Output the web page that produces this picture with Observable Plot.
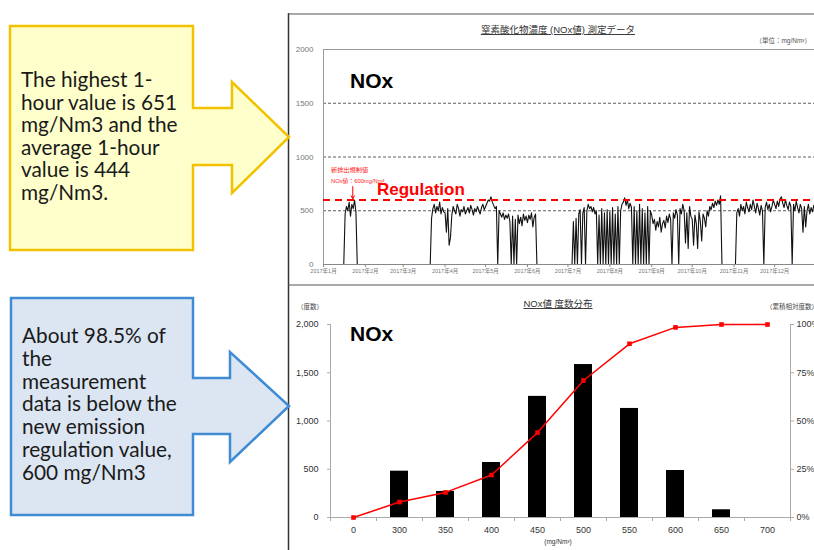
<!DOCTYPE html>
<html><head><meta charset="utf-8">
<script src="https://cdn.jsdelivr.net/npm/d3@7"></script>
<script src="https://cdn.jsdelivr.net/npm/@observablehq/plot@0.6"></script>
<style>
html,body{margin:0;padding:0;background:#fff;}
body{width:814px;height:550px;overflow:hidden;position:relative;font-family:"Liberation Sans",Arial,"Noto Sans CJK JP",sans-serif;}
#top,#bottom,#overlay{position:absolute;}
#top{left:288px;top:13px;width:540px;}
#bottom{left:288px;top:288px;width:526px;}
#overlay{left:0;top:0;pointer-events:none;}
#top svg,#bottom svg{max-width:none !important;}
</style></head><body>
<div id="top"></div><div id="bottom"></div>
<svg id="overlay" width="814" height="550" xmlns="http://www.w3.org/2000/svg">
  <!-- panel borders -->
  <line x1="288.5" y1="13" x2="288.5" y2="550" stroke="#333" stroke-width="1.5"/>
  <line x1="288" y1="14" x2="814" y2="14" stroke="#555" stroke-width="1.2"/>
  <line x1="288" y1="285" x2="814" y2="285" stroke="#555" stroke-width="1.2"/>
  <!-- callouts -->
  <polygon points="10,26 193,26 193,108 232,108 232,82 289,137 232,193 232,165 193,165 193,250 10,250" fill="#ffffcc" stroke="#f2c200" stroke-width="2.5" stroke-linejoin="miter"/>
  <polygon points="11,298 193,298 193,378 230,378 230,352 289,406 230,462 230,434 193,434 193,515 11,515" fill="#dce6f2" stroke="#3f8bd4" stroke-width="2.5" stroke-linejoin="miter"/>
  <g font-family="Lato, 'Open Sans', sans-serif" font-size="20.8" fill="#1a1a1a">
    <text x="21" y="87">The highest 1-</text>
    <text x="21" y="109.6">hour value is 651</text>
    <text x="21" y="132.2">mg/Nm3 and the</text>
    <text x="21" y="154.8">average 1-hour</text>
    <text x="21" y="177.4">value is 444</text>
    <text x="21" y="200">mg/Nm3.</text>
    <text x="22" y="343">About 98.5% of</text>
    <text x="22" y="365.8">the</text>
    <text x="22" y="388.6">measurement</text>
    <text x="22" y="411.4">data is below the</text>
    <text x="22" y="434.2">new emission</text>
    <text x="22" y="457">regulation value,</text>
    <text x="22" y="479.8">600 mg/Nm3</text>
  </g>
  <!-- chart titles and notes -->
  <g font-family="'Liberation Sans', Arial, 'Noto Sans CJK JP', sans-serif">
    <text x="558" y="33" text-anchor="middle" font-size="9.5" fill="#333" text-decoration="underline">窒素酸化物濃度 (NOx値) 測定データ</text>
    <text x="811" y="43" text-anchor="end" font-size="6.5" fill="#555">（単位：mg/Nm³）</text>
    <text x="350" y="88" font-size="21" font-weight="bold" fill="#000">NOx</text>
    <text x="331" y="171.5" font-size="6.2" fill="#ff2020">新排出規制値</text>
    <text x="331" y="182.5" font-size="5.8" fill="#ff2020">NOx値：600mg/Nm³</text>
    <text x="377" y="194.5" font-size="17" font-weight="bold" fill="#ff0000">Regulation</text>
    <text x="558" y="307" text-anchor="middle" font-size="9.5" fill="#333" text-decoration="underline">NOx値 度数分布</text>
    <text x="297" y="309" font-size="6.5" fill="#444">（度数）</text>
    <text x="766" y="309" font-size="6.5" fill="#444">（累積相対度数）</text>
    <text x="350" y="341" font-size="21" font-weight="bold" fill="#000">NOx</text>
    <text x="558" y="544" text-anchor="middle" font-size="6.5" fill="#333">(mg/Nm³)</text>
  </g>
</svg>
<script>
// Daily NOx readings 2017 (mg/Nm3); 0 = plant stopped
const jan=[0,0,0,0,0,0,0,0,0,0,0,0,0,0,0,0,470,540,500,580,450,560,520,600,490,0,0,0,0,0,0];
const feb=[0,0,0,0,0,0,0,0,0,0,0,0,0,0,0,0,0,0,0,0,0,0,0,0,0,0,0,0];
const mar=[0,0,0,0,0,0,0,0,0,0,0,0,0,0,0,0,0,0,0,0,0,430,520,560,480,540,500,580,470,530,490];
const apr=[480,300,520,180,250,460,540,500,470,560,520,450,510,490,540,470,500,530,480,550,510,460,520,490,540,500,470,530,560,510];
const may=[540,570,600,590,630,580,550,520,540,0,500,470,440,480,420,460,430,470,400,0,450,0,420,0,460,380,440,360,470,410,450];
const jun=[390,460,420,480,350,440,470,0,0,0,0,0,0,0,0,0,0,0,0,0,0,0,0,0,0,0,0,0,0,0];
const jul=[0,0,0,0,400,0,430,0,470,510,0,480,530,0,500,560,520,540,490,530,470,500,0,460,0,520,0,480,0,510,0];
const aug=[490,0,530,0,470,0,540,0,500,560,580,620,550,600,520,570,530,0,540,0,500,0,560,0,520,0,480,0,540,0,500];
const sep=[460,380,420,320,400,350,440,300,380,410,340,450,390,470,420,0,480,430,510,460,0,520,470,560,500,200,480,150,540,450];
const oct=[420,180,460,380,150,490,400,220,470,430,350,500,450,540,510,570,530,590,550,600,560,640,0,0,0,0,0,0,0,0,0];
const nov=[0,0,480,520,450,560,500,540,470,580,530,490,560,510,600,540,480,570,520,460,550,500,0,530,580,510,560,490,540,600];
const dec=[560,520,590,540,610,630,570,530,600,550,510,580,540,0,560,500,590,530,480,560,520,300,540,350,500,560,470,530,490,550,510];
const regulation = 600;
const topTicks = [0, 500, 1000, 1500, 2000];
const gridTop = [500, 1000, 1500];

// Frequency distribution
const bins = ["0","300","350","400","450","500","550","600","650","700"];
const counts = [0, 480, 270, 570, 1255, 1585, 1130, 487, 80, 0];
const cumPct = [0, 8, 13, 22, 44, 71, 90, 98.5, 100, 100];
const countTicks = [0, 500, 1000, 1500, 2000];

const months = [jan,feb,mar,apr,may,jun,jul,aug,sep,oct,nov,dec];
const nox = [];
months.forEach((arr, m) => arr.forEach((v, i) => nox.push({date: new Date(Date.UTC(2017, m, i + 1)), value: v})));
const monthTicks = d3.range(12).map(m => new Date(Date.UTC(2017, m, 1)));
const start = new Date(Date.UTC(2017, 0, 1)), end = new Date(Date.UTC(2018, 0, 1));
const arrowPt = [{d: new Date(Date.UTC(2017, 0, 22, 16)), y1: 725, y2: 612}];

const fontFam = "'Liberation Sans', Arial, 'Noto Sans CJK JP', sans-serif";

const topPlot = Plot.plot({
  width: 540, height: 272, marginLeft: 35, marginRight: 12, marginTop: 36, marginBottom: 21,
  x: {type: "utc", domain: [start, end], label: null},
  y: {domain: [0, 2000], label: null},
  style: {fontFamily: fontFam, background: "transparent", overflow: "visible", maxWidth: "none"},
  marks: [
    Plot.gridY(gridTop, {stroke: "#333", strokeOpacity: 1, strokeWidth: 0.8, strokeDasharray: "3,2"}),
    Plot.ruleY([2000], {stroke: "#999"}),
    Plot.ruleX([start], {stroke: "#999"}),
    Plot.lineY(nox, {x: "date", y: "value", stroke: "#111", strokeWidth: 1.1}),
    Plot.ruleY([0], {stroke: "#888"}),
    Plot.ruleY([regulation], {stroke: "#ff0000", strokeWidth: 2, strokeDasharray: "7,5"}),
    Plot.arrow(arrowPt, {x1: "d", x2: "d", y1: "y1", y2: "y2", stroke: "#ff0000", strokeWidth: 1, headLength: 5}),
    Plot.axisY(topTicks, {tickSize: 0, tickPadding: 10, fontSize: 8, fill: "#777", tickFormat: d => String(d)}),
    Plot.axisX(monthTicks, {tickSize: 3, tickPadding: 2, fontSize: 5.5, fill: "#777", stroke: "#888",
      tickFormat: d => `2017年${d.getUTCMonth() + 1}月`})
  ]
});
document.getElementById("top").append(topPlot);

const hist = bins.map((b, i) => ({bin: b, count: counts[i], cum: cumPct[i]}));
const bottomPlot = Plot.plot({
  width: 526, height: 262, marginLeft: 42, marginRight: 24, marginTop: 36, marginBottom: 33,
  x: {type: "band", domain: bins, paddingInner: 0.6, paddingOuter: 0.3, label: null},
  y: {domain: [0, 2000], label: null},
  style: {fontFamily: fontFam, background: "transparent", overflow: "visible", maxWidth: "none"},
  marks: [
    Plot.barY(hist, {x: "bin", y: "count", fill: "#000"}),
    Plot.ruleY([0], {stroke: "#aaa"}),
    Plot.ruleX([bins[0]], {dx: -23, stroke: "#aaa"}),
    Plot.ruleX([bins[bins.length - 1]], {dx: 23, stroke: "#aaa"}),
    Plot.lineY(hist, {x: "bin", y: d => d.cum * 20, stroke: "#ff0000", strokeWidth: 1.5}),
    Plot.dot(hist, {x: "bin", y: d => d.cum * 20, symbol: "square", r: 2.6, fill: "#ff0000"}),
    Plot.axisX({tickSize: 0, tickPadding: 9, fontSize: 9, fill: "#333"}),
    Plot.axisX({tickSize: 4, dx: -23, fill: "none", stroke: "#aaa"}),
    Plot.axisX([bins[bins.length - 1]], {tickSize: 4, dx: 23, fill: "none", stroke: "#aaa"}),
    Plot.axisY(countTicks, {tickSize: 3, tickPadding: 9, fontSize: 9, fill: "#333", stroke: "#aaa", tickFormat: d3.format(",")}),
    Plot.axisY(countTicks, {anchor: "right", tickSize: 3, tickPadding: 3, fontSize: 9, fill: "#333", stroke: "#aaa", tickFormat: d => (d / 20) + "%"})
  ]
});
document.getElementById("bottom").append(bottomPlot);
</script>
</body></html>
